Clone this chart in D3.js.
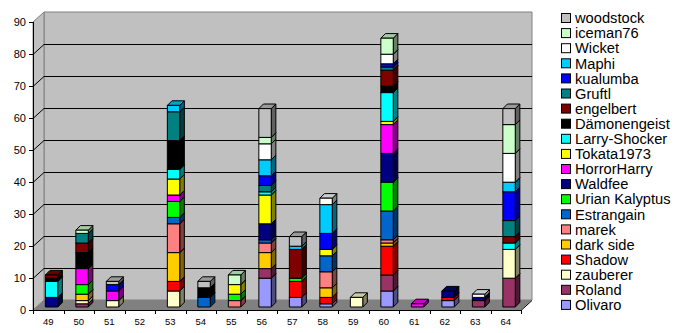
<!DOCTYPE html>
<html>
<head>
<meta charset="utf-8">
<script src="https://cdn.jsdelivr.net/npm/d3@7"></script>
<style>
  body { margin: 0; background: #fff; }
  svg { display: block; font-family: "Liberation Sans", Arial, sans-serif; }
</style>
</head>
<body>
<svg id="chart" width="690" height="333"></svg>
<script>
// categories on the x axis
var categories = ["49","50","51","52","53","54","55","56","57","58","59","60","61","62","63","64"];

// one array per series, in stacking order (bottom first)
var olivaro      = [0,0,0,0,0,0,0,9,3,1,0,5,0,2,0,0];
var roland       = [0,1,0,0,0,0,0,3,0,0,0,5,0,0,2,9];
var zauberer     = [0,1,2,0,5,0,0,0,0,0,3,0,0,0,0,9];
var shadow       = [0,0,0,0,3,0,0,0,5,2,0,9,0,1,0,0];
var darkSide     = [0,2,0,0,9,0,0,5,0,3,0,1,0,0,0,0];
var marek        = [0,0,0,0,9,0,2,3,0,5,0,1,0,0,0,0];
var estrangain   = [0,0,0,0,2,3,0,1,0,5,0,9,0,0,0,0];
var urian        = [0,3,0,0,5,0,2,0,1,0,0,9,0,0,0,0];
var waldfee      = [3,0,0,0,0,0,0,5,0,0,0,9,0,2,1,0];
var horrorHarry  = [0,5,3,0,2,0,0,0,0,0,0,9,1,0,0,0];
var tokata       = [0,0,0,0,5,0,3,9,0,2,0,1,0,0,0,0];
var larry        = [5,0,0,0,3,0,0,1,0,0,0,9,0,0,0,2];
var daemon       = [1,5,0,0,9,3,0,0,0,0,0,2,0,0,0,0];
var engelbert    = [1,3,0,0,0,0,0,0,9,0,0,5,0,0,0,2];
var gruftl       = [0,3,0,0,9,0,0,2,0,0,0,1,0,0,0,5];
var kualumba     = [0,0,2,0,0,0,0,3,0,5,0,1,0,0,0,9];
var maphi        = [0,0,0,0,2,0,0,5,1,9,0,0,0,0,0,3];
var wicket       = [0,0,0,0,0,0,0,5,0,2,0,3,0,0,1,9];
var iceman       = [0,1,0,0,0,0,3,2,0,0,0,5,0,0,0,9];
var woodstock    = [0,0,1,0,0,2,0,9,3,0,0,0,0,0,0,5];

var seriesNames = ["Olivaro","Roland","zauberer","Shadow","dark side","marek","Estrangain",
  "Urian Kalyptus","Waldfee","HorrorHarry","Tokata1973","Larry-Shocker","Dämonengeist",
  "engelbert","Gruftl","kualumba","Maphi","Wicket","iceman76","woodstock"];
var seriesValues = [olivaro, roland, zauberer, shadow, darkSide, marek, estrangain, urian,
  waldfee, horrorHarry, tokata, larry, daemon, engelbert, gruftl, kualumba, maphi, wicket,
  iceman, woodstock];
var seriesColors = ["#9999FF","#993366","#FFFFCC","#FF0000","#FFCC00","#FF8080","#0066CC",
  "#00FF00","#000080","#FF00FF","#FFFF00","#00FFFF","#000000","#800000","#008080",
  "#0000FF","#00CCFF","#FFFFFF","#CCFFCC","#C0C0C0"];

var yTicks = [0,10,20,30,40,50,60,70,80,90];

var svg = d3.select("#chart");

// plot geometry (front plane + depth offset of the 3d walls)
var left = 33, right = 521, floorY = 310, topY = 22;
var depthX = 11, depthY = 10;

var x = d3.scaleBand().domain(categories).range([left, right]);
var y = d3.scaleLinear().domain([0, 90]).range([floorY, topY]);

// back wall
svg.append("polygon")
  .attr("points", [[left+depthX, topY-depthY],[right+depthX, topY-depthY],[right+depthX, floorY-depthY],[left+depthX, floorY-depthY]].join(" "))
  .attr("fill", "#C0C0C0").attr("stroke", "#808080");
// side wall
svg.append("polygon")
  .attr("points", [[left, topY],[left+depthX, topY-depthY],[left+depthX, floorY-depthY],[left, floorY]].join(" "))
  .attr("fill", "#C0C0C0").attr("stroke", "#808080");
// floor
svg.append("polygon")
  .attr("points", [[left, floorY],[right, floorY],[right+depthX, floorY-depthY],[left+depthX, floorY-depthY]].join(" "))
  .attr("fill", "#808080");
svg.append("path")
  .attr("d", "M" + right + "," + (floorY+0.5) + "L" + (right+depthX) + "," + (floorY-depthY+0.5))
  .attr("fill", "none").attr("stroke", "#000");

// gridlines (top one is just the wall edge)
yTicks.forEach(function(t){
  if (t === 0 || t === 90) return;
  var yy = Math.round(y(t)) + 0.5;
  svg.append("path")
    .attr("d", "M" + left + "," + yy + "L" + (left+depthX) + "," + (yy-depthY) + "L" + (right+depthX) + "," + (yy-depthY))
    .attr("fill", "none").attr("stroke", "#000");
});

// y axis
var yAxis = svg.append("g");
yAxis.append("line").attr("x1", left+0.5).attr("x2", left+0.5).attr("y1", topY).attr("y2", floorY)
  .attr("stroke", "#000");
yTicks.forEach(function(t){
  var yy = Math.round(y(t)) + 0.5;
  yAxis.append("line").attr("x1", left-4).attr("x2", left).attr("y1", yy).attr("y2", yy).attr("stroke", "#000");
  yAxis.append("text").attr("x", left-7).attr("y", yy).attr("dy", "0.36em")
    .attr("text-anchor", "end").attr("font-size", 11).text(t);
});

// x axis
var xAxis = svg.append("g");
xAxis.append("line").attr("x1", left).attr("x2", right).attr("y1", floorY+0.5).attr("y2", floorY+0.5).attr("stroke", "#000");
categories.forEach(function(c, i){
  var xx = Math.round(x(c)) + 0.5;
  xAxis.append("line").attr("x1", xx).attr("x2", xx).attr("y1", floorY).attr("y2", floorY+4).attr("stroke", "#000");
  xAxis.append("text").attr("x", x(c) + x.bandwidth()/2).attr("y", floorY+12).attr("dy", "0.36em")
    .attr("text-anchor", "middle").attr("font-size", 9.5).text(c);
});
xAxis.append("line").attr("x1", right+0.5).attr("x2", right+0.5).attr("y1", floorY).attr("y2", floorY+4).attr("stroke", "#000");

// stacked data
var rows = categories.map(function(c, i){
  var r = { cat: c };
  seriesNames.forEach(function(n, k){ r[n] = seriesValues[k][i]; });
  return r;
});
var stacked = d3.stack().keys(seriesNames)(rows);

// bars sit at ~0.3 of the floor depth
var barW = 12.4, barDX = 4.6, barDY = 4.6;
var shiftX = 3.3, shiftY = 3;

function shade(col, k){
  var c = d3.rgb(col);
  return d3.rgb(c.r*k, c.g*k, c.b*k).toString();
}

var bars = svg.append("g");
categories.forEach(function(c, i){
  var x0 = x(c) + (x.bandwidth() - barW)/2 + shiftX;
  var x1 = x0 + barW;
  stacked.forEach(function(s, k){
    var d = s[i];
    if (d[1] - d[0] <= 0) return;
    var yb = y(d[0]) - shiftY, yt = y(d[1]) - shiftY;
    var col = seriesColors[k];
    var g = bars.append("g").attr("stroke", "#000").attr("stroke-width", 1).attr("stroke-linejoin", "round");
    g.append("polygon")
      .attr("points", [[x1, yt],[x1+barDX, yt-barDY],[x1+barDX, yb-barDY],[x1, yb]].join(" "))
      .attr("fill", shade(col, 0.5));
    g.append("polygon")
      .attr("points", [[x0, yt],[x0+barDX, yt-barDY],[x1+barDX, yt-barDY],[x1, yt]].join(" "))
      .attr("fill", shade(col, 0.8));
    g.append("rect").attr("x", x0).attr("y", yt).attr("width", barW).attr("height", yb - yt)
      .attr("fill", col);
  });
});

// legend (top entry = last series)
var legend = svg.append("g").attr("transform", "translate(561,18)");
var order = seriesNames.map(function(n, k){ return k; }).reverse();
order.forEach(function(k, j){
  var g = legend.append("g").attr("transform", "translate(0," + (j*15.1) + ")");
  g.append("rect").attr("x", 0.5).attr("y", -4.5).attr("width", 9).attr("height", 9)
    .attr("fill", seriesColors[k]).attr("stroke", "#000");
  g.append("text").attr("x", 14).attr("y", 0).attr("dy", "0.36em")
    .attr("font-size", 14.7).text(seriesNames[k]);
});
</script>
</body>
</html>
